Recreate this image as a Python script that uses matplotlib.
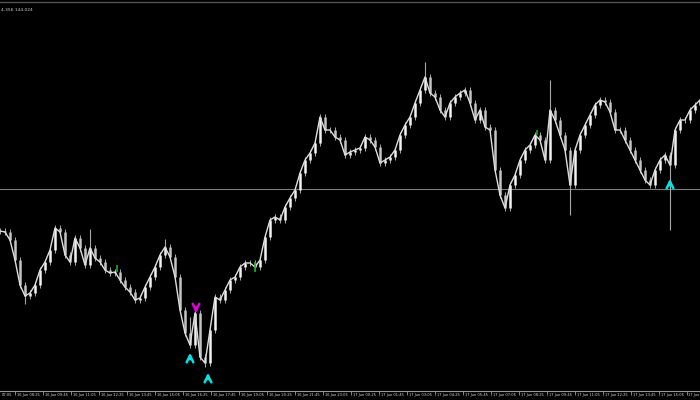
import matplotlib
matplotlib.use("Agg")
import matplotlib.pyplot as plt
import matplotlib.transforms as mtransforms
import numpy as np

plt.rcParams['savefig.bbox'] = 'standard'

# close prices, one reading per ~14 minutes of the M5 chart
closes = [
    144.138, 144.136, 144.120, 144.080, 144.030, 144.008, 144.014, 144.030, 144.060, 144.076,
    144.100, 144.144, 144.136, 144.090, 144.076, 144.124, 144.104, 144.070, 144.104, 144.084,
    144.076, 144.060, 144.054, 144.056, 144.040, 144.026, 144.016, 144.000, 144.004, 144.026,
    144.046, 144.066, 144.090, 144.106, 144.086, 144.046, 143.980, 143.934, 143.910, 143.974,
    143.886, 143.874, 143.940, 144.006, 144.000, 144.020, 144.040, 144.046, 144.066, 144.074,
    144.074, 144.066, 144.080, 144.126, 144.160, 144.166, 144.160, 144.186, 144.204, 144.220,
    144.254, 144.280, 144.294, 144.314, 144.366, 144.340, 144.340, 144.326, 144.320, 144.290,
    144.296, 144.300, 144.304, 144.326, 144.320, 144.306, 144.274, 144.280, 144.286, 144.300,
    144.330, 144.350, 144.366, 144.394, 144.420, 144.446, 144.414, 144.406, 144.380, 144.366,
    144.394, 144.406, 144.414, 144.420, 144.394, 144.360, 144.380, 144.346, 144.340, 144.260,
    144.210, 144.184, 144.230, 144.250, 144.280, 144.300, 144.310, 144.330, 144.320, 144.280,
    144.380, 144.360, 144.330, 144.300, 144.230, 144.300, 144.330, 144.350, 144.370, 144.390,
    144.400, 144.396, 144.376, 144.340, 144.340, 144.320, 144.300, 144.280, 144.260, 144.240,
    144.230, 144.260, 144.280, 144.290, 144.270, 144.340, 144.360, 144.360, 144.380, 144.390,
    144.400,
]

# long wicks that stand out (bar index, extreme price)
spike_bars = [5, 18, 33, 38, 41, 85, 110, 114, 134]
spike_prices = [143.992, 144.142, 144.122, 143.966, 143.866, 144.476, 144.440, 144.170, 144.140]

# signal arrows (bar index, arrow tip price)
buy_bars = [38, 41.6, 134]
buy_prices = [143.900, 143.860, 144.248]
sell_bars = [39.2]
sell_prices = [143.968]

# small green marks
green_bars = [23.4, 51, 107.4]
green_lo = [144.056, 144.056, 144.330]
green_hi = [144.070, 144.076, 144.340]

level = 144.222
header = "4.356 144.024"

# the first and last labels are only partly visible at the chart edges
time_labels = [
    "07:05", "16 Jun 08:25", "16 Jun 09:45", "16 Jun 11:05", "16 Jun 12:25",
    "16 Jun 13:45", "16 Jun 15:05", "16 Jun 16:25", "16 Jun 17:45", "16 Jun 19:05",
    "16 Jun 20:25", "16 Jun 21:45", "16 Jun 23:05", "17 Jun 00:25", "17 Jun 01:45",
    "17 Jun 03:05", "17 Jun 04:25", "17 Jun 05:45", "17 Jun 07:05", "17 Jun 08:25",
    "17 Jun 09:45", "17 Jun 11:05", "17 Jun 12:25", "17 Jun 13:45", "17 Jun 15:05",
    "17 Jun",
]

fig = plt.figure(figsize=(7, 4), dpi=100, facecolor="black")
ax = fig.add_axes([0, 0.0225, 1, 0.9725])
ax.set_facecolor("black")

x = np.arange(len(closes))
c = np.array(closes)
o = np.concatenate([[c[0]], c[:-1]])
top = np.maximum(o, c)
bot = np.minimum(o, c)
wick = 0.006

ax.axhline(level, color="#7c7c7c", lw=0.8, zorder=1)

ax.vlines(x, bot - wick, top + wick, color="#a8a8a8", lw=0.7, zorder=2)
ax.vlines(spike_bars, spike_prices, c[spike_bars], color="#a8a8a8", lw=0.8, zorder=2)
bull = c >= o
ax.vlines(x[bull], bot[bull], top[bull], color="#f2f2f2", lw=1.8, zorder=3)
ax.vlines(x[~bull], bot[~bull], top[~bull], color="#c4c4c4", lw=1.8, zorder=3)
ax.plot(x, c, color="#dedede", lw=1.0, zorder=3)

ax.vlines(green_bars, green_lo, green_hi, color="#1faa1f", lw=1.2, zorder=4)

arrow_len = 0.024
for bx, p in zip(buy_bars, buy_prices):
    ax.annotate("", xy=(bx, p), xytext=(bx, p - arrow_len),
                arrowprops=dict(arrowstyle="->", color="#00e5e5", lw=1.8,
                                mutation_scale=12), zorder=5)
for bx, p in zip(sell_bars, sell_prices):
    ax.annotate("", xy=(bx, p), xytext=(bx, p + arrow_len),
                arrowprops=dict(arrowstyle="->", color="#e000e0", lw=1.8,
                                mutation_scale=12), zorder=5)

ax.set_xlim(0, 140)
ax.set_ylim(143.818, 144.596)

# time axis: one label every 80 minutes
tick0 = -2.6
step = 5.6
ticks = [tick0 + k * step for k in range(len(time_labels))]
ax.set_xticks([t for t in ticks if t >= 0])
ax.set_xticklabels([])
ax.set_yticks([])
ax.tick_params(axis="x", direction="out", length=3, width=0.6, color="#9a9a9a")

trans = mtransforms.blended_transform_factory(ax.transData, ax.transAxes)
offset = mtransforms.ScaledTranslation(1.5 / 72, 0, fig.dpi_scale_trans)
for i, (t, lab) in enumerate(zip(ticks, time_labels)):
    if i == 0:
        ax.text(0.002, -0.006, lab, transform=ax.transAxes, fontsize=2.6,
                color="#d8d8d8", ha="left", va="top")
    elif i == len(time_labels) - 1:
        ax.text(0.999, -0.006, lab, transform=ax.transAxes, fontsize=2.6,
                color="#d8d8d8", ha="right", va="top")
    else:
        ax.text(t, -0.006, lab, transform=trans + offset, fontsize=2.6,
                color="#d8d8d8", ha="left", va="top")

for side in ["left", "right"]:
    ax.spines[side].set_visible(False)
ax.spines["bottom"].set_color("#9a9a9a")
ax.spines["bottom"].set_linewidth(0.8)
ax.spines["top"].set_color("#505050")
ax.spines["top"].set_linewidth(1.0)

ax.text(0.002, 0.985, header, transform=ax.transAxes, fontsize=3.2,
        color="#cfcfcf", ha="left", va="top")

fig.savefig("out.png", dpi=100, facecolor="black")
